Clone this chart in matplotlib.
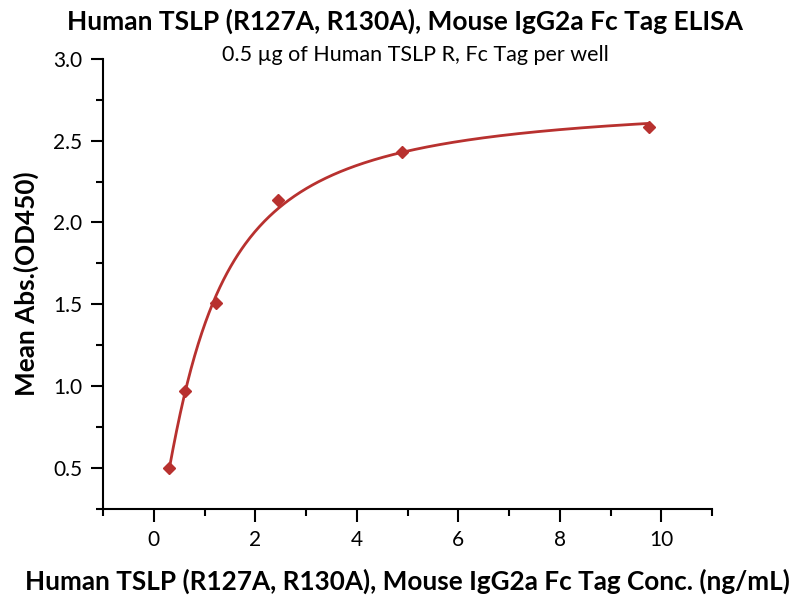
import matplotlib
matplotlib.use("Agg")
import matplotlib.pyplot as plt
import numpy as np
from matplotlib import ticker

# concentrations (ng/mL) and mean absorbance
conc = [0.305, 0.610, 1.221, 2.441, 4.883, 9.766]
od450 = [0.498, 0.970, 1.508, 2.137, 2.430, 2.586]

title = "Human TSLP (R127A, R130A), Mouse IgG2a Fc Tag ELISA"
subtitle = "0.5 \u00b5g of Human TSLP R, Fc Tag per well"
xlabel = "Human TSLP (R127A, R130A), Mouse IgG2a Fc Tag Conc. (ng/mL)"
ylabel = "Mean Abs.(OD450)"

red = "#b8312f"


def fit_4pl(x, y):
    # grid over slope / midpoint, top and bottom solved by weighted least squares (1/y^2)
    x = np.asarray(x)
    y = np.asarray(y)
    w = 1.0 / y
    best = None
    for b in np.linspace(0.5, 3.0, 126):
        for c in np.exp(np.linspace(np.log(0.1), np.log(20), 300)):
            g = 1.0 / (1.0 + (x / c) ** b)
            A = np.column_stack([g, 1 - g])
            coef, *_ = np.linalg.lstsq(A * w[:, None], y * w, rcond=None)
            err = np.sum(((A @ coef - y) * w) ** 2)
            if best is None or err < best[0]:
                best = (err, coef[0], coef[1], b, c)
    _, a, d, b, c = best
    return lambda t: d + (a - d) / (1.0 + (t / c) ** b)


def plot_elisa():
    plt.rcParams["font.family"] = ["Lato", "DejaVu Sans"]
    fig = plt.figure(figsize=(8, 6), dpi=100)
    ax = fig.add_axes([0.129, 0.152, 0.761, 0.75])

    curve = fit_4pl(conc, od450)
    xs = np.linspace(min(conc), max(conc), 400)
    ax.plot(xs, curve(xs), color=red, lw=2)
    ax.plot(conc, od450, "D", color=red, ms=6.5, mec=red)

    ax.set_xlim(-1, 11)
    ax.set_ylim(0.25, 3.0)
    ax.xaxis.set_major_locator(ticker.MultipleLocator(2))
    ax.xaxis.set_minor_locator(ticker.MultipleLocator(1))
    ax.yaxis.set_major_locator(ticker.MultipleLocator(0.5))
    ax.yaxis.set_minor_locator(ticker.MultipleLocator(0.25))
    ax.xaxis.set_major_formatter(ticker.FormatStrFormatter("%d"))
    ax.yaxis.set_major_formatter(ticker.FormatStrFormatter("%.1f"))
    ax.set_xticks([0, 2, 4, 6, 8, 10])

    for side in ("top", "right"):
        ax.spines[side].set_visible(False)
    for side in ("left", "bottom"):
        ax.spines[side].set_linewidth(1.5)
    ax.tick_params(which="both", direction="out", width=1.5, labelsize=15)
    ax.tick_params(which="major", length=9, pad=6)
    ax.tick_params(which="minor", length=5)

    ax.set_xlabel(xlabel, fontsize=18.8, fontweight="bold", labelpad=14)
    ax.set_ylabel(ylabel, fontsize=18.8, fontweight="bold", labelpad=10)
    fig.text(0.506, 0.965, title, ha="center", va="center", fontsize=19, fontweight="bold")
    fig.text(0.519, 0.908, subtitle, ha="center", va="center", fontsize=15.5)

    plt.savefig("out.png", dpi=100)


if __name__ == "__main__":
    plot_elisa()
